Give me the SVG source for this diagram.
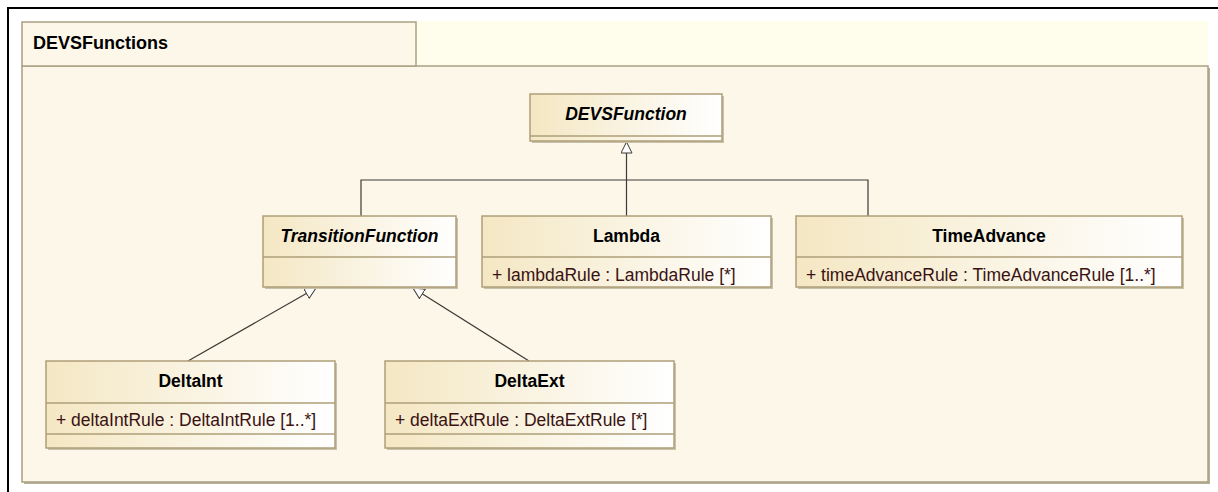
<svg xmlns="http://www.w3.org/2000/svg" width="1218" height="492" viewBox="0 0 1218 492">
<style>
.pkg{fill:#fdf7e9;stroke:#aaa084;stroke-width:1.5}
.box{fill:url(#g);stroke:#ae9f78;stroke-width:1.5}
.shadow{fill:#c9c1ab}
.div{stroke:#ae9f78;stroke-width:1.5}
.title{font-family:"Liberation Sans",Arial,sans-serif;font-size:17.5px;font-weight:bold;fill:#000;text-anchor:middle}
.abs{font-style:italic}
.attr{font-family:"Liberation Sans",Arial,sans-serif;font-size:17.5px;fill:#3a1212}
.conn{fill:none;stroke:#3a3a36;stroke-width:1.2}
</style>
<defs>
<linearGradient id="g" x1="0" y1="0" x2="1" y2="0">
<stop offset="0" stop-color="#f4e7c3"/>
<stop offset="1" stop-color="#ffffff"/>
</linearGradient>
<marker id="gen" viewBox="0 0 12 12" refX="11.5" refY="6" markerWidth="12" markerHeight="12" markerUnits="userSpaceOnUse" orient="auto">
<path d="M0.5,0.5 L11.5,6 L0.5,11.5 z" fill="#ffffff" stroke="#3a3a36" stroke-width="1"/>
</marker>
</defs>
<rect x="0" y="0" width="1218" height="492" fill="#ffffff"/>
<path d="M8,492 L8,8 L1218,8" fill="none" stroke="#000" stroke-width="2"/>
<g id="package">
<rect x="416" y="21" width="792" height="45" fill="#fffeec"/>
<rect x="24" y="68" width="1186" height="416" fill="#b8b098"/>
<rect class="pkg" x="22" y="66" width="1186" height="416"/>
<rect class="pkg" x="22" y="22" width="394" height="44"/>
<text x="33" y="49" font-family="Liberation Sans,Arial,sans-serif" font-size="18" font-weight="bold" fill="#000">DEVSFunctions</text>
</g>
<g id="connectors">
<path class="conn" d="M361,216 L361,180 L868,180 L868,216"/>
<path class="conn" d="M626.5,216 L626.5,142" marker-end="url(#gen)"/>
<path class="conn" d="M188,361 L316,288" marker-end="url(#gen)"/>
<path class="conn" d="M529,361 L413,288" marker-end="url(#gen)"/>
</g>
<g id="DEVSFunction">
<rect class="shadow" x="532" y="96" width="192" height="47"/>
<rect class="box" x="530" y="94" width="192" height="47"/>
<line class="div" x1="530" y1="136" x2="722" y2="136"/>
<text class="title abs" x="626" y="120">DEVSFunction</text>
</g>
<g id="TransitionFunction">
<rect class="shadow" x="265" y="218" width="193" height="71"/>
<rect class="box" x="263" y="216" width="193" height="71"/>
<line class="div" x1="263" y1="257" x2="456" y2="257"/>
<text class="title abs" x="359.5" y="242">TransitionFunction</text>
</g>
<g id="Lambda">
<rect class="shadow" x="484" y="218" width="289" height="71"/>
<rect class="box" x="482" y="216" width="289" height="71"/>
<line class="div" x1="482" y1="257" x2="771" y2="257"/>
<text class="title" x="626.5" y="242">Lambda</text>
<text class="attr" x="492" y="281">+ lambdaRule : LambdaRule [*]</text>
</g>
<g id="TimeAdvance">
<rect class="shadow" x="798" y="218" width="386" height="71"/>
<rect class="box" x="796" y="216" width="386" height="71"/>
<line class="div" x1="796" y1="257" x2="1182" y2="257"/>
<text class="title" x="989" y="242">TimeAdvance</text>
<text class="attr" x="806" y="281">+ timeAdvanceRule : TimeAdvanceRule [1..*]</text>
</g>
<g id="DeltaInt">
<rect class="shadow" x="48" y="363" width="289" height="87"/>
<rect class="box" x="46" y="361" width="289" height="87"/>
<line class="div" x1="46" y1="403" x2="335" y2="403"/>
<line class="div" x1="46" y1="434" x2="335" y2="434"/>
<text class="title" x="190.5" y="387">DeltaInt</text>
<text class="attr" x="56" y="426">+ deltaIntRule : DeltaIntRule [1..*]</text>
</g>
<g id="DeltaExt">
<rect class="shadow" x="387" y="363" width="289" height="87"/>
<rect class="box" x="385" y="361" width="289" height="87"/>
<line class="div" x1="385" y1="403" x2="674" y2="403"/>
<line class="div" x1="385" y1="434" x2="674" y2="434"/>
<text class="title" x="529.5" y="387">DeltaExt</text>
<text class="attr" x="395" y="426">+ deltaExtRule : DeltaExtRule [*]</text>
</g>
</svg>
